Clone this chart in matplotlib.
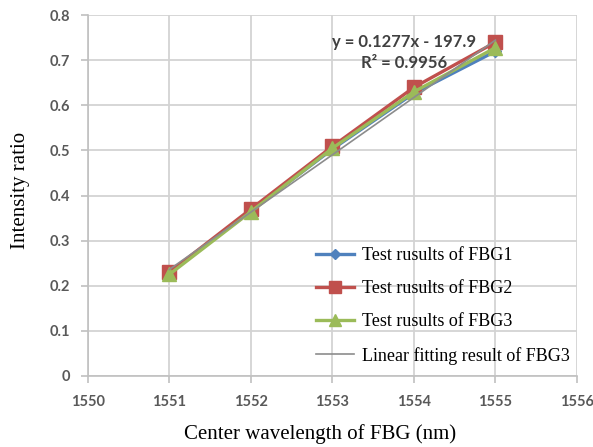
import numpy as np
import matplotlib
matplotlib.use("Agg")
import matplotlib.pyplot as plt

wavelength = [1551, 1552, 1553, 1554, 1555]
fbg1 = [0.228, 0.366, 0.503, 0.627, 0.720]
fbg2 = [0.230, 0.370, 0.509, 0.640, 0.740]
fbg3 = [0.225, 0.364, 0.505, 0.630, 0.728]
labels = ["Test rusults of FBG1", "Test rusults of FBG2", "Test rusults of FBG3",
          "Linear fitting result of FBG3"]
equation_text = "y = 0.1277x - 197.9"
r2_text = "R² = 0.9956"
xticks = [1550, 1551, 1552, 1553, 1554, 1555, 1556]
yticks = [0, 0.1, 0.2, 0.3, 0.4, 0.5, 0.6, 0.7, 0.8]

fig = plt.figure(figsize=(5.93, 4.47), dpi=100)
ax = fig.add_axes([0.148, 0.159, 0.825, 0.807])

slope, intercept = np.polyfit(wavelength, fbg3, 1)
fit_x = np.array([wavelength[0], wavelength[-1]])

ax.plot(wavelength, fbg1, color="#4F81BD", lw=2.4, marker="D", ms=6, label=labels[0], zorder=3)
ax.plot(wavelength, fbg2, color="#C0504D", lw=2.4, marker="s", ms=10, label=labels[1], zorder=4)
ax.plot(wavelength, fbg3, color="#9BBB59", lw=2.4, marker="^", ms=10, label=labels[2], zorder=5)
ax.plot(fit_x, slope * fit_x + intercept, color="#8c8c8c", lw=1.2, label=labels[3], zorder=6)

ax.set_xlim(1550, 1556)
ax.set_ylim(0, 0.8)
ax.set_xticks(xticks)
ax.set_yticks(yticks)
ax.set_yticklabels(["0" if v == 0 else f"{v:.1f}" for v in yticks])
ax.grid(True, color="#d3d3d3", lw=1.3)
ax.set_axisbelow(True)
for s in ["top", "right"]:
    ax.spines[s].set_visible(False)
for s in ["left", "bottom"]:
    ax.spines[s].set_color("#c0c0c0")
    ax.spines[s].set_linewidth(1.2)
ax.tick_params(axis="both", colors="#c0c0c0", length=5, width=1.2,
               labelcolor="#595959", labelsize=10.5)
for lab in ax.get_xticklabels() + ax.get_yticklabels():
    lab.set_fontfamily("Lato")
    lab.set_fontweight("bold")
ax.tick_params(axis="x", pad=9)
ax.tick_params(axis="y", pad=8)

ax.set_xlabel("Center wavelength of FBG (nm)", family="Liberation Serif", fontsize=15)
ax.set_ylabel("Intensity ratio", family="Liberation Serif", fontsize=15)
ax.xaxis.set_label_coords(0.474, -0.134)
ax.yaxis.set_label_coords(-0.118, 0.515)

ax.text(1553.88, 0.741, equation_text, ha="center", va="center", fontsize=12,
        family="Lato", fontweight="bold", color="#404040")
ax.text(1553.88, 0.694, r2_text, ha="center", va="center", fontsize=12,
        family="Lato", fontweight="bold", color="#404040")

leg = fig.legend(handles=ax.get_lines(), labels=labels, loc="upper left",
                 bbox_to_anchor=(316 / 593, 1 - 247 / 447), frameon=False,
                 prop={"family": "Liberation Serif", "size": 13},
                 handlelength=2.1, labelspacing=0.9, handletextpad=0.45,
                 borderpad=0, borderaxespad=0, markerscale=0.8)

fig.savefig("out.png", dpi=100)
